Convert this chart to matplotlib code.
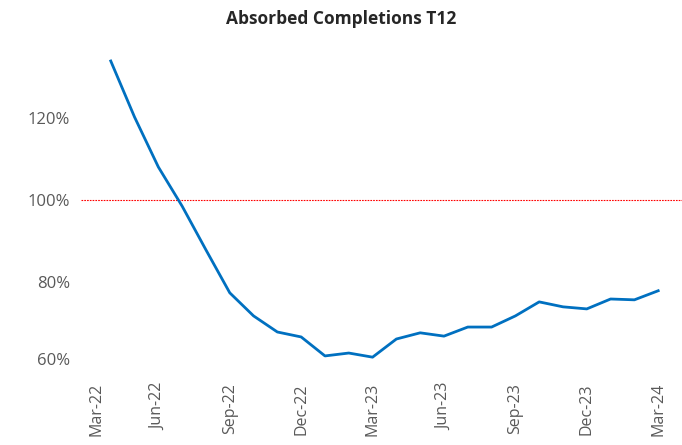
import matplotlib.pyplot as plt
import matplotlib.transforms as mtransforms

# months from Apr-22 to Mar-24 (index 0 = Mar-22)
month_idx = list(range(1, 25))
absorbed_t12 = [133.7, 120.1, 108.0, 98.5, 87.9, 77.5, 71.9, 68.0, 66.8, 62.2, 62.9, 61.9,
                66.3, 67.8, 67.0, 69.2, 69.2, 71.9, 75.3, 74.1, 73.6, 76.0, 75.8, 78.0]
tick_pos = [0, 3, 6, 9, 12, 15, 18, 21, 24]
tick_labels = ['Mar-22', 'Jun-22', 'Sep-22', 'Dec-22', 'Mar-23', 'Jun-23', 'Sep-23', 'Dec-23', 'Mar-24']
y_ticks = [60, 80, 100, 120]

plt.rcParams['font.family'] = ['Open Sans', 'DejaVu Sans']

fig = plt.figure(figsize=(6.82, 4.45), dpi=100)
ax = fig.add_axes([81 / 682, (445 - 365) / 445, (682 - 81) / 682, (365 - 35) / 445])

ax.axhline(100, color='red', linewidth=0.8, linestyle=(0, (1.5, 1)))
ax.plot(month_idx, absorbed_t12, color='#0070C0', linewidth=2.0, solid_joinstyle='round')

ax.set_xlim(-0.25, 25.0)
ax.set_ylim(60, 140)
ax.set_xticks(tick_pos)
ax.set_xticklabels(tick_labels, rotation=90, fontsize=11.5, color='#595959')
ax.set_yticks(y_ticks)
ax.set_yticklabels([f'{v}%' for v in y_ticks], fontsize=12, color='#595959')
ax.tick_params(axis='both', length=0)
ax.tick_params(axis='x', pad=13)
ax.tick_params(axis='y', pad=8)
for s in ax.spines.values():
    s.set_visible(False)

# Excel nudges the edge labels inwards
lbl = ax.get_yticklabels()[0]
lbl.set_transform(lbl.get_transform() + mtransforms.ScaledTranslation(0, 6 / 100, fig.dpi_scale_trans))
xl = ax.get_xticklabels()[0]
xl.set_transform(xl.get_transform() + mtransforms.ScaledTranslation(10 / 100, 0, fig.dpi_scale_trans))

fig.text(0.5, 1 - 19 / 445, 'Absorbed Completions T12', ha='center', va='center',
         fontsize=12.5, fontweight='bold', color='#262626')

fig.savefig('out.png', dpi=100)
